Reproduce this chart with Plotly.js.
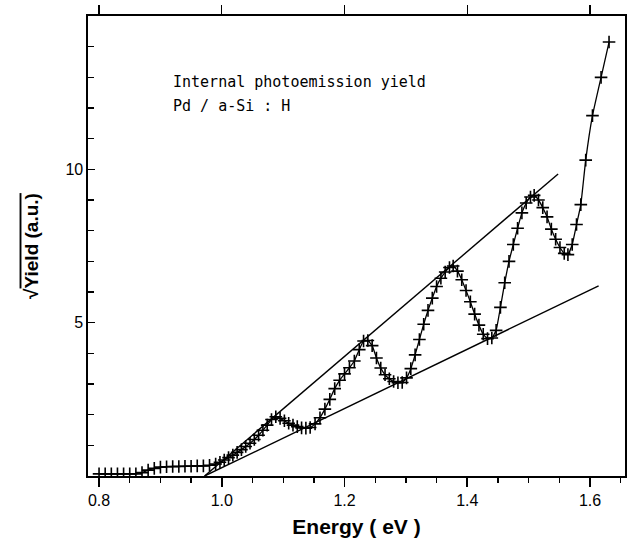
<!DOCTYPE html>
<html>
<head>
<meta charset="utf-8">
<script src="https://cdn.plot.ly/plotly-3.0.1.min.js"></script>
<style>html,body{margin:0;padding:0;background:#fff;}#chart{width:631px;height:542px;}</style>
</head>
<body>
<div id="chart"></div>
<script>
// Measured points: photon energy (eV) vs sqrt(yield) (a.u.)
var energy = [0.800,0.810,0.820,0.830,0.840,0.850,0.860,0.870,0.880,0.890,0.900,0.910,0.920,0.930,0.940,0.950,0.960,0.970,0.980,
  0.990,0.997,1.004,1.011,1.018,1.025,1.032,1.039,1.046,1.053,1.060,1.067,1.074,1.081,1.088,1.095,1.102,1.109,1.116,1.123,1.130,1.137,1.144,
  1.152,1.160,1.168,1.176,1.184,1.192,1.200,1.208,1.216,1.224,1.231,1.238,1.245,1.252,1.259,1.266,1.273,1.280,1.287,1.294,1.301,
  1.308,1.315,1.322,1.329,1.336,1.343,1.350,1.357,1.364,1.371,1.377,1.384,1.391,1.398,1.405,1.412,1.419,1.426,1.433,1.440,1.447,
  1.454,1.461,1.468,1.475,1.482,1.489,1.496,1.503,1.509,1.516,1.523,1.530,1.537,1.544,1.551,1.558,1.564,1.571,1.578,1.585,
  1.593,1.604,1.618,1.631];
var sqrtYield = [0.07,0.07,0.07,0.07,0.07,0.07,0.07,0.11,0.19,0.25,0.29,0.30,0.31,0.31,0.32,0.32,0.33,0.33,0.35,
  0.39,0.45,0.52,0.60,0.68,0.77,0.86,0.96,1.07,1.19,1.33,1.49,1.66,1.84,1.93,1.88,1.80,1.72,1.66,1.61,1.57,1.56,1.58,
  1.70,1.90,2.18,2.50,2.85,3.12,3.33,3.53,3.75,4.12,4.40,4.42,4.25,3.85,3.52,3.30,3.17,3.08,3.04,3.05,3.20,
  3.50,3.95,4.45,4.95,5.40,5.80,6.18,6.45,6.65,6.80,6.85,6.68,6.40,6.05,5.68,5.28,4.92,4.62,4.48,4.50,4.75,
  5.50,6.30,7.00,7.55,8.08,8.58,8.90,9.10,9.15,9.00,8.75,8.45,8.05,7.72,7.45,7.26,7.22,7.55,8.20,8.85,
  10.30,11.75,13.00,14.15];
// Straight construction lines (end points)
var upperLineX = [0.972, 1.548];
var upperLineY = [0, 9.85];
var lowerLineX = [0.972, 1.614];
var lowerLineY = [0, 6.20];
var xTickVals = [0.8, 1.0, 1.2, 1.4, 1.6];
var xTickText = ['0.8', '1.0', '1.2', '1.4', '1.6'];
var yTickVals = [5, 10];
var yTickText = ['5', '10'];
var noteLines = ['Internal photoemission yield', 'Pd / a-Si : H'];

var traces = [
  {x: upperLineX, y: upperLineY, mode: 'lines', line: {color: '#000', width: 1.4}, hoverinfo: 'skip'},
  {x: lowerLineX, y: lowerLineY, mode: 'lines', line: {color: '#000', width: 1.4}, hoverinfo: 'skip'},
  {x: energy, y: sqrtYield, mode: 'lines+markers',
   line: {color: '#000', width: 1.3, shape: 'spline', smoothing: 0.4},
   marker: {symbol: 'cross-thin', size: 9, color: '#000', line: {color: '#000', width: 1.6}}},
  {x: xTickVals, y: [0,0,0,0,0], xaxis: 'x2', yaxis: 'y', mode: 'markers', marker: {opacity: 0}, hoverinfo: 'skip'}
];

var xr = [0.782, 1.657];
var layout = {
  width: 631, height: 542,
  margin: {l: 88, r: 6, t: 16, b: 66},
  paper_bgcolor: '#fff', plot_bgcolor: '#fff',
  showlegend: false,
  font: {family: 'Liberation Sans, Arial, sans-serif', color: '#000'},
  xaxis: {
    range: xr, showgrid: false, zeroline: false,
    showline: true, linecolor: '#000', linewidth: 1.6, mirror: true,
    tickmode: 'array', tickvals: xTickVals, ticktext: xTickText,
    ticks: 'outside', ticklen: 9, tickwidth: 1.6, tickcolor: '#000',
    minor: {dtick: 0.05, tick0: 0.8, ticks: 'outside', ticklen: 5, tickwidth: 1.3, tickcolor: '#000'},
    tickfont: {size: 16, family: 'Liberation Sans, Arial, sans-serif'},
    title: {text: '<b>Energy ( eV )</b>', font: {size: 21, family: 'Liberation Sans, Arial, sans-serif'}, standoff: 11}
  },
  xaxis2: {
    range: xr, overlaying: 'x', side: 'top', anchor: 'y',
    showgrid: false, zeroline: false, showline: false,
    tickmode: 'array', tickvals: xTickVals, showticklabels: false,
    ticks: 'outside', ticklen: 10, tickwidth: 1.4, tickcolor: '#000'
  },
  yaxis: {
    range: [0, 15], showgrid: false, zeroline: false,
    showline: true, linecolor: '#000', linewidth: 1.6, mirror: true,
    tickmode: 'array', tickvals: yTickVals, ticktext: yTickText,
    ticks: 'inside', ticklen: 7, tickwidth: 1.4, tickcolor: '#000',
    minor: {dtick: 1, tick0: 0, ticks: 'inside', ticklen: 6, tickwidth: 1.3, tickcolor: '#000'},
    tickfont: {size: 16, family: 'Liberation Sans, Arial, sans-serif'},
    title: {text: '<b>√<span style="text-decoration:overline">Yield (a.u.)</span></b>', font: {size: 19, family: 'Liberation Sans, Arial, sans-serif'}, standoff: 22}
  },
  annotations: [
    {x: 0.918, y: 12.85, xref: 'x', yref: 'y', text: noteLines[0], showarrow: false, xanchor: 'left', yanchor: 'middle',
     font: {size: 15, family: 'DejaVu Sans Mono, monospace', color: '#000'}},
    {x: 0.918, y: 12.07, xref: 'x', yref: 'y', text: noteLines[1], showarrow: false, xanchor: 'left', yanchor: 'middle',
     font: {size: 15, family: 'DejaVu Sans Mono, monospace', color: '#000'}}
  ]
};

Plotly.newPlot('chart', traces, layout, {staticPlot: true, displayModeBar: false});
</script>
</body>
</html>
